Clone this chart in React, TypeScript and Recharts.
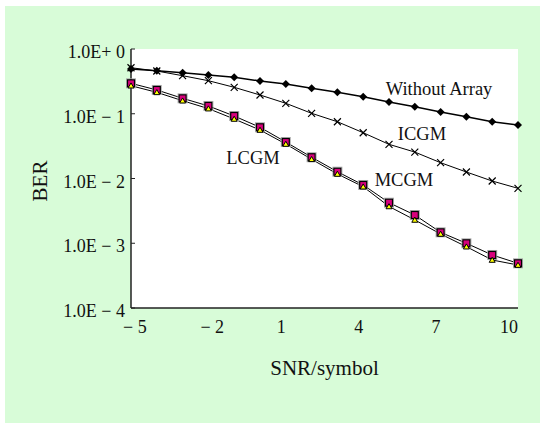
import { CartesianGrid, Label, Line, LineChart, ReferenceDot, XAxis, YAxis } from "recharts"

const snr = [-5, -4, -3, -2, -1, 0, 1, 2, 3, 4, 5, 6, 7, 8, 9, 10]
const withoutArray = [0.491, 0.462, 0.431, 0.397, 0.365, 0.321, 0.288, 0.247, 0.214, 0.183, 0.152, 0.1285, 0.1064, 0.09, 0.0753, 0.067]
const icgm = [0.514, 0.457, 0.387, 0.324, 0.256, 0.195, 0.145, 0.1016, 0.0753, 0.0509, 0.0337, 0.0256, 0.01754, 0.0126, 0.00914, 0.00705]
const mcgm = [0.295, 0.233, 0.173, 0.132, 0.0923, 0.0618, 0.0366, 0.0213, 0.01273, 0.00794, 0.00423, 0.00273, 0.001475, 0.000998, 0.000659, 0.00049]
const lcgm = [0.271, 0.214, 0.159, 0.12, 0.083, 0.0561, 0.0341, 0.0198, 0.01173, 0.00747, 0.0037, 0.00229, 0.00139, 0.000885, 0.000551, 0.000461]

const xTicks = [-5, -2, 1, 4, 7, 10]
const yTicks = [1e-4, 1e-3, 1e-2, 1e-1, 1]

// curve names and where they sit (data coords)
const curveNames = ["Without Array", "ICGM", "MCGM", "LCGM"]
const nameSnr = [6.94, 6.28, 5.58, -0.27]
const nameBer = [0.25, 0.0504, 0.0098, 0.0215]

const data = snr.map((s, i) => ({
  snr: s,
  withoutArray: withoutArray[i],
  icgm: icgm[i],
  mcgm: mcgm[i],
  lcgm: lcgm[i],
}))

const font = "'Liberation Serif', 'Times New Roman', serif"
const ink = "#111"

const Diamond = (p: any) => {
  const { cx, cy } = p
  return <path key={`dia-${p.index}`} d={`M${cx},${cy - 4}L${cx + 4},${cy}L${cx},${cy + 4}L${cx - 4},${cy}Z`} fill="#000" />
}

const Cross = (p: any) => {
  const { cx, cy } = p
  return (
    <path
      key={`x-${p.index}`}
      d={`M${cx - 3.5},${cy - 3.5}L${cx + 3.5},${cy + 3.5}M${cx + 3.5},${cy - 3.5}L${cx - 3.5},${cy + 3.5}`}
      stroke="#000"
      strokeWidth={1.2}
    />
  )
}

const Square = (p: any) => {
  const { cx, cy } = p
  return (
    <g key={`sq-${p.index}`}>
      <rect x={cx - 4.5} y={cy - 4.5} width={9} height={9} fill="none" stroke="#aaa" strokeWidth={1} />
      <rect x={cx - 3.5} y={cy - 3.5} width={7} height={7} fill="#d8007c" stroke="#000" strokeWidth={1.2} />
    </g>
  )
}

const Triangle = (p: any) => {
  const { cx, cy } = p
  return (
    <path
      key={`tri-${p.index}`}
      d={`M${cx},${cy - 2.8}L${cx + 3},${cy + 2.3}L${cx - 3},${cy + 2.3}Z`}
      fill="#ffff00"
      stroke="#000"
      strokeWidth={1}
    />
  )
}

const XTick = ({ x, y, payload }: any) => {
  const v = payload.value
  const neg = v < 0
  return (
    <text
      x={neg ? x - 8 : x}
      y={y + 19}
      textAnchor={neg ? "start" : "end"}
      dominantBaseline="central"
      fontFamily={font}
      fontSize={18}
      fill={ink}
    >
      {neg ? `\u2212 ${-v}` : `${v}`}
    </text>
  )
}

const YTick = ({ x, y, payload }: any) => {
  const exp = Math.round(Math.log10(payload.value))
  const text = exp === 0 ? "1.0E+ 0" : `1.0E \u2212 ${-exp}`
  return (
    <text x={x} y={y + 3} textAnchor="end" dominantBaseline="central" fontFamily={font} fontSize={18} fill={ink}>
      {text}
    </text>
  )
}

export default function App() {
  return (
    <div style={{ position: "absolute", left: 5, top: 6, width: 535, height: 417, background: "#d8fcd8" }}>
      <LineChart width={535} height={417} data={data} margin={{ top: 43, right: 22, left: 26, bottom: 40 }}>
        <CartesianGrid fill="#fff" horizontal={false} vertical={false} />
        <XAxis
          dataKey="snr"
          type="number"
          domain={[-5, 10]}
          ticks={xTicks}
          height={75}
          tickSize={0}
          tickMargin={0}
          tick={<XTick />}
          axisLine={{ stroke: "#222", strokeWidth: 1.5 }}
        >
          <Label
            content={(props: any) => {
              const vb = props.viewBox || { x: 126, y: 302, width: 387 }
              return (
                <text
                  x={vb.x + vb.width / 2}
                  y={vb.y + 60}
                  textAnchor="middle"
                  dominantBaseline="central"
                  fontFamily={font}
                  fontSize={21}
                  fill={ink}
                >
                  SNR/symbol
                </text>
              )
            }}
          />
        </XAxis>
        <XAxis xAxisId="top" orientation="top" type="number" domain={[-5, 10]} height={0} tick={false} tickLine={false} axisLine={{ stroke: "#222", strokeWidth: 1.5 }} />
        <YAxis
          type="number"
          scale="log"
          domain={[1e-4, 1]}
          allowDataOverflow
          ticks={yTicks}
          width={100}
          tickSize={-4}
          tickMargin={10}
          tick={<YTick />}
          tickLine={{ stroke: "#222" }}
          axisLine={{ stroke: "#222", strokeWidth: 1.5 }}
        >
          <Label
            content={(props: any) => {
              const vb = props.viewBox || { x: 26, y: 43, height: 259 }
              const cx = vb.x + 9
              const cy = vb.y + vb.height / 2 + 2.5
              return (
                <text
                  x={cx}
                  y={cy}
                  transform={`rotate(-90, ${cx}, ${cy})`}
                  textAnchor="middle"
                  dominantBaseline="central"
                  fontFamily={font}
                  fontSize={21}
                  fill={ink}
                >
                  BER
                </text>
              )
            }}
          />
        </YAxis>
        <YAxis yAxisId="right" orientation="right" type="number" domain={[0, 1]} width={0} tick={false} tickLine={false} axisLine={{ stroke: "#222", strokeWidth: 1.5 }} />

        <Line dataKey="withoutArray" stroke="#000" strokeWidth={1.5} dot={Diamond} isAnimationActive={false} />
        <Line dataKey="icgm" stroke="#000" strokeWidth={1} dot={Cross} isAnimationActive={false} />
        <Line dataKey="mcgm" stroke="#000" strokeWidth={1} dot={Square} isAnimationActive={false} />
        <Line dataKey="lcgm" stroke="#000" strokeWidth={1} dot={Triangle} isAnimationActive={false} />

        {curveNames.map((name, i) => (
          <ReferenceDot
            key={name}
            x={nameSnr[i]}
            y={nameBer[i]}
            r={1}
            fill="none"
            stroke="none"
            label={{ value: name, position: "center", fontFamily: font, fontSize: 18.5, fill: ink }}
          />
        ))}
      </LineChart>
    </div>
  )
}
